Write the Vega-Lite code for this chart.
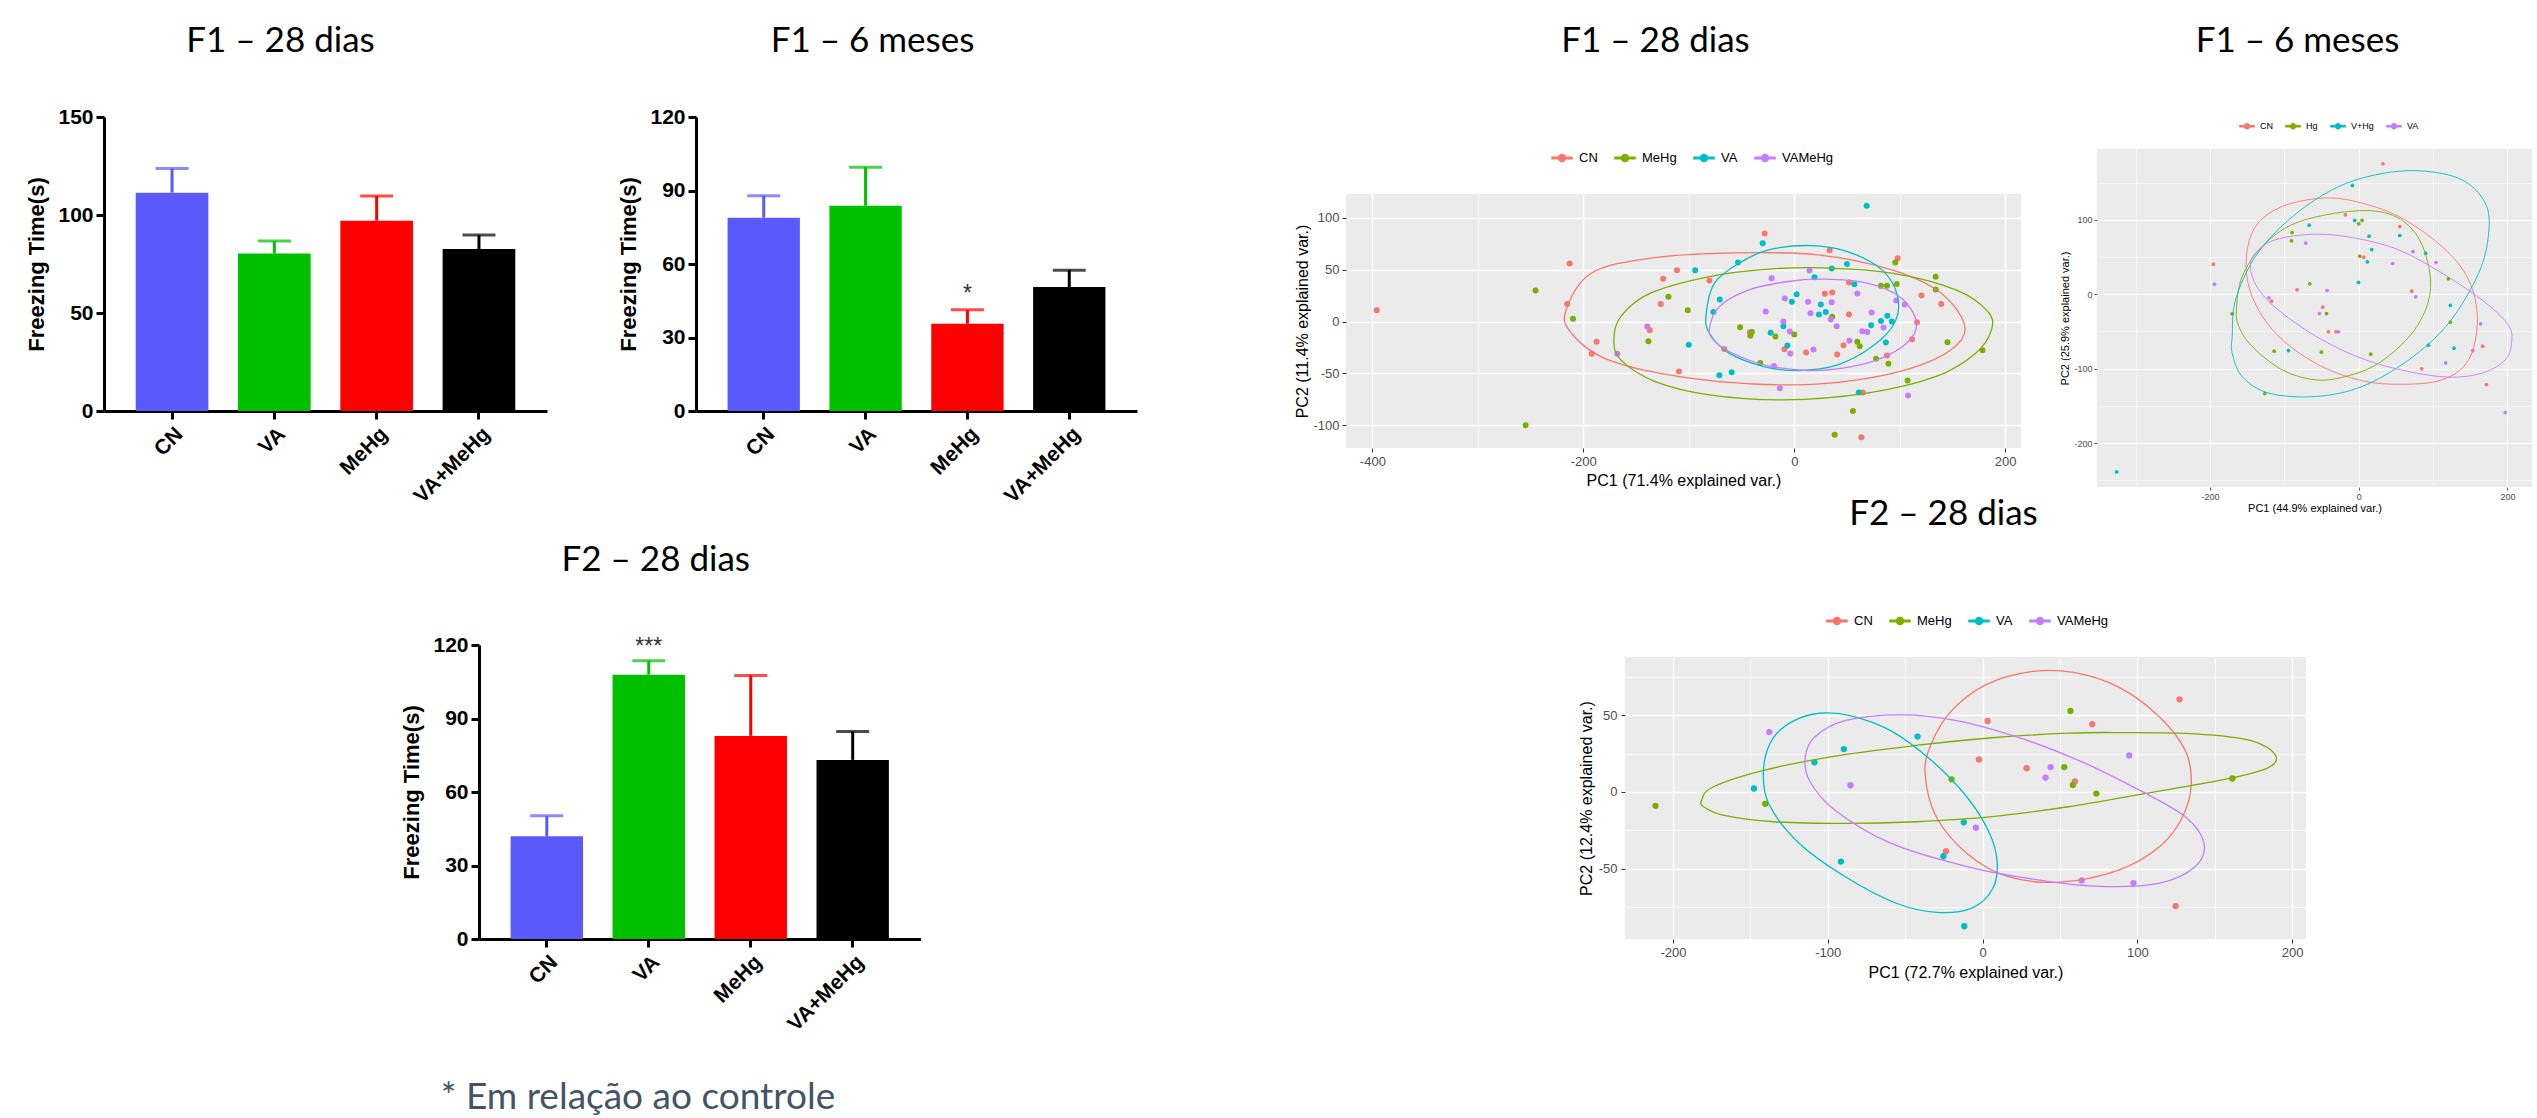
{
"$schema": "https://vega.github.io/schema/vega-lite/v6.json",
"background": "white",
"padding": {"left": 25, "top": 24, "right": 2, "bottom": 2},
"config": {
  "view": {"stroke": null},
  "font": "Liberation Sans",
  "title": {"font": "Lato", "fontSize": 35, "fontWeight": "normal", "color": "#000000", "anchor": "middle", "frame": "group"}
},
"datasets": {
  "bar1": [
    {"group": "CN", "mean": 111.4, "upper": 123.7, "sig": ""},
    {"group": "VA", "mean": 80.4, "upper": 86.7, "sig": ""},
    {"group": "MeHg", "mean": 97.1, "upper": 109.7, "sig": ""},
    {"group": "VA+MeHg", "mean": 82.6, "upper": 89.8, "sig": ""}
  ],
  "bar2": [
    {"group": "CN", "mean": 78.9, "upper": 87.9, "sig": ""},
    {"group": "VA", "mean": 83.8, "upper": 99.5, "sig": ""},
    {"group": "MeHg", "mean": 35.6, "upper": 41.3, "sig": "*"},
    {"group": "VA+MeHg", "mean": 50.6, "upper": 57.5, "sig": ""}
  ],
  "bar3": [
    {"group": "CN", "mean": 41.9, "upper": 50.3, "sig": ""},
    {"group": "VA", "mean": 107.9, "upper": 113.6, "sig": "***"},
    {"group": "MeHg", "mean": 82.9, "upper": 107.6, "sig": ""},
    {"group": "VA+MeHg", "mean": 73.1, "upper": 84.7, "sig": ""}
  ],
  "pca1_pts": [
    {"group":"CN","pc1":-395.8,"pc2":10.9},{"group":"CN","pc1":-213,"pc2":56},{"group":"CN","pc1":-215.4,"pc2":17},{"group":"CN","pc1":-187.4,"pc2":-19.6},{"group":"CN","pc1":-192,"pc2":-31.2},{"group":"CN","pc1":-137,"pc2":-8.4},{"group":"CN","pc1":-124.3,"pc2":41.2},{"group":"CN","pc1":-111.2,"pc2":49.5},{"group":"CN","pc1":-126.6,"pc2":17},{"group":"CN","pc1":-109.3,"pc2":-48.2},{"group":"CN","pc1":-80.4,"pc2":39.5},{"group":"CN","pc1":-66.4,"pc2":-26.4},{"group":"CN","pc1":-42,"pc2":-10.3},{"group":"CN","pc1":-28,"pc2":84.9},{"group":"CN","pc1":-9.3,"pc2":-26.7},{"group":"CN","pc1":11.2,"pc2":-29.9},{"group":"CN","pc1":29,"pc2":26.7},{"group":"CN","pc1":36,"pc2":28},{"group":"CN","pc1":33.6,"pc2":68.8},{"group":"CN","pc1":40.7,"pc2":-31.8},{"group":"CN","pc1":46.7,"pc2":-22.8},{"group":"CN","pc1":51.9,"pc2":37.6},{"group":"CN","pc1":51.9,"pc2":6.8},{"group":"CN","pc1":65,"pc2":-68.5},{"group":"CN","pc1":63.6,"pc2":-111.6},{"group":"CN","pc1":87.9,"pc2":-32.8},{"group":"CN","pc1":98,"pc2":61},{"group":"CN","pc1":111.7,"pc2":-17},{"group":"CN","pc1":116.4,"pc2":-0.6},{"group":"CN","pc1":120.6,"pc2":25},{"group":"CN","pc1":139.3,"pc2":17},
    {"group":"MeHg","pc1":-245.3,"pc2":29.9},{"group":"MeHg","pc1":-254.7,"pc2":-100},{"group":"MeHg","pc1":-209.8,"pc2":2.6},{"group":"MeHg","pc1":-138.3,"pc2":-19},{"group":"MeHg","pc1":-119.2,"pc2":23.8},{"group":"MeHg","pc1":-101,"pc2":10.9},{"group":"MeHg","pc1":-51.4,"pc2":-5.5},{"group":"MeHg","pc1":-40.2,"pc2":-10},{"group":"MeHg","pc1":-41.6,"pc2":-13.8},{"group":"MeHg","pc1":-32.2,"pc2":-39.9},{"group":"MeHg","pc1":-17.8,"pc2":-14.5},{"group":"MeHg","pc1":0,"pc2":-12.5},{"group":"MeHg","pc1":36,"pc2":4.5},{"group":"MeHg","pc1":38.3,"pc2":-109.3},{"group":"MeHg","pc1":55.6,"pc2":-86.2},{"group":"MeHg","pc1":59.8,"pc2":-19.6},{"group":"MeHg","pc1":62.1,"pc2":-23.8},{"group":"MeHg","pc1":77.6,"pc2":-36},{"group":"MeHg","pc1":82.2,"pc2":34.4},{"group":"MeHg","pc1":87.9,"pc2":34.4},{"group":"MeHg","pc1":89.3,"pc2":-40.8},{"group":"MeHg","pc1":95.8,"pc2":56.9},{"group":"MeHg","pc1":97.2,"pc2":36.3},{"group":"MeHg","pc1":107.5,"pc2":-56.9},{"group":"MeHg","pc1":134.1,"pc2":43.1},{"group":"MeHg","pc1":134.1,"pc2":30.9},{"group":"MeHg","pc1":145.3,"pc2":-19.9},{"group":"MeHg","pc1":178.5,"pc2":-27.7},
    {"group":"VA","pc1":-93.9,"pc2":49.5},{"group":"VA","pc1":-100,"pc2":-22.5},{"group":"VA","pc1":-76.6,"pc2":9.3},{"group":"VA","pc1":-70.6,"pc2":21.2},{"group":"VA","pc1":-71,"pc2":-51.8},{"group":"VA","pc1":-59.3,"pc2":-48.9},{"group":"VA","pc1":-53.3,"pc2":56.9},{"group":"VA","pc1":-29.9,"pc2":75.6},{"group":"VA","pc1":-22.4,"pc2":-10.9},{"group":"VA","pc1":-10.3,"pc2":-4.5},{"group":"VA","pc1":-6.5,"pc2":-23.2},{"group":"VA","pc1":-2.3,"pc2":19},{"group":"VA","pc1":2.3,"pc2":26.4},{"group":"VA","pc1":19.2,"pc2":42.8},{"group":"VA","pc1":23.4,"pc2":6.8},{"group":"VA","pc1":25.2,"pc2":16.4},{"group":"VA","pc1":29.9,"pc2":9.3},{"group":"VA","pc1":35.5,"pc2":51.1},{"group":"VA","pc1":50,"pc2":55.6},{"group":"VA","pc1":57,"pc2":36},{"group":"VA","pc1":61.2,"pc2":-68.5},{"group":"VA","pc1":68.7,"pc2":111.6},{"group":"VA","pc1":72.9,"pc2":-3.5},{"group":"VA","pc1":82.2,"pc2":0.6},{"group":"VA","pc1":88.3,"pc2":5.5},{"group":"VA","pc1":86.9,"pc2":-20.3},{"group":"VA","pc1":92.5,"pc2":0},
    {"group":"VAMeHg","pc1":-139.3,"pc2":-4.8},{"group":"VAMeHg","pc1":-167.8,"pc2":-31.2},{"group":"VAMeHg","pc1":-27.1,"pc2":9.6},{"group":"VAMeHg","pc1":-21.5,"pc2":41.8},{"group":"VAMeHg","pc1":-8.9,"pc2":22.2},{"group":"VAMeHg","pc1":-10.3,"pc2":0},{"group":"VAMeHg","pc1":-4.2,"pc2":-9.6},{"group":"VAMeHg","pc1":-3.7,"pc2":-30.9},{"group":"VAMeHg","pc1":-19.2,"pc2":-42.8},{"group":"VAMeHg","pc1":-13.6,"pc2":-64.3},{"group":"VAMeHg","pc1":13.1,"pc2":19},{"group":"VAMeHg","pc1":14.5,"pc2":49.2},{"group":"VAMeHg","pc1":15.4,"pc2":8},{"group":"VAMeHg","pc1":18.2,"pc2":-27},{"group":"VAMeHg","pc1":34.6,"pc2":1.9},{"group":"VAMeHg","pc1":35.5,"pc2":18.6},{"group":"VAMeHg","pc1":40.2,"pc2":-4.5},{"group":"VAMeHg","pc1":52.3,"pc2":-18.6},{"group":"VAMeHg","pc1":59.8,"pc2":27},{"group":"VAMeHg","pc1":64.5,"pc2":-9.3},{"group":"VAMeHg","pc1":69.2,"pc2":-10},{"group":"VAMeHg","pc1":73.4,"pc2":8.7},{"group":"VAMeHg","pc1":84.6,"pc2":-5.8},{"group":"VAMeHg","pc1":96.7,"pc2":20.3},{"group":"VAMeHg","pc1":104.7,"pc2":16.4},{"group":"VAMeHg","pc1":107.9,"pc2":-71.4}
  ],
  "pca1_ell": [
    {"group":"CN","i":0,"pc1":-216.8,"pc2":9.6},{"group":"CN","i":1,"pc1":-192.5,"pc2":46.6},{"group":"CN","i":2,"pc1":-136.4,"pc2":61.1},{"group":"CN","i":3,"pc1":-57,"pc2":66.2},{"group":"CN","i":4,"pc1":22.4,"pc2":64.3},{"group":"CN","i":5,"pc1":92.5,"pc2":49.8},{"group":"CN","i":6,"pc1":139.3,"pc2":27.3},{"group":"CN","i":7,"pc1":161.7,"pc2":-4.8},{"group":"CN","i":8,"pc1":148.6,"pc2":-27.3},{"group":"CN","i":9,"pc1":111.2,"pc2":-45},{"group":"CN","i":10,"pc1":59.8,"pc2":-56.3},{"group":"CN","i":11,"pc1":3.7,"pc2":-61.1},{"group":"CN","i":12,"pc1":-71,"pc2":-57.9},{"group":"CN","i":13,"pc1":-136.4,"pc2":-48.2},{"group":"CN","i":14,"pc1":-183.2,"pc2":-33.8},{"group":"CN","i":15,"pc1":-211.2,"pc2":-11.3},
    {"group":"MeHg","i":0,"pc1":-171,"pc2":-17.7},{"group":"MeHg","i":1,"pc1":-164.5,"pc2":4.8},{"group":"MeHg","i":2,"pc1":-136.4,"pc2":27.3},{"group":"MeHg","i":3,"pc1":-80.4,"pc2":43.4},{"group":"MeHg","i":4,"pc1":-24.3,"pc2":50.5},{"group":"MeHg","i":5,"pc1":27.1,"pc2":51.8},{"group":"MeHg","i":6,"pc1":92.5,"pc2":46.6},{"group":"MeHg","i":7,"pc1":153.3,"pc2":30.5},{"group":"MeHg","i":8,"pc1":183.6,"pc2":9.6},{"group":"MeHg","i":9,"pc1":187,"pc2":-8},{"group":"MeHg","i":10,"pc1":172,"pc2":-30.5},{"group":"MeHg","i":11,"pc1":134.6,"pc2":-53},{"group":"MeHg","i":12,"pc1":69.2,"pc2":-69.1},{"group":"MeHg","i":13,"pc1":-10.3,"pc2":-75.6},{"group":"MeHg","i":14,"pc1":-80.4,"pc2":-70.7},{"group":"MeHg","i":15,"pc1":-131.8,"pc2":-57.9},{"group":"MeHg","i":16,"pc1":-164.5,"pc2":-37},
    {"group":"VA","i":0,"pc1":-83.6,"pc2":6.4},{"group":"VA","i":1,"pc1":-75.7,"pc2":37},{"group":"VA","i":2,"pc1":-52.3,"pc2":56.3},{"group":"VA","i":3,"pc1":-24.3,"pc2":69.1},{"group":"VA","i":4,"pc1":15.4,"pc2":73.3},{"group":"VA","i":5,"pc1":50.5,"pc2":67.5},{"group":"VA","i":6,"pc1":83.2,"pc2":49.8},{"group":"VA","i":7,"pc1":98,"pc2":24.1},{"group":"VA","i":8,"pc1":94.9,"pc2":-1.6},{"group":"VA","i":9,"pc1":73.8,"pc2":-24.1},{"group":"VA","i":10,"pc1":41.1,"pc2":-41.8},{"group":"VA","i":11,"pc1":3.7,"pc2":-47.3},{"group":"VA","i":12,"pc1":-29,"pc2":-43.4},{"group":"VA","i":13,"pc1":-61.7,"pc2":-30.5},{"group":"VA","i":14,"pc1":-80.4,"pc2":-11.3},
    {"group":"VAMeHg","i":0,"pc1":-80.4,"pc2":-6.4},{"group":"VAMeHg","i":1,"pc1":-71,"pc2":14.5},{"group":"VAMeHg","i":2,"pc1":-43,"pc2":30.5},{"group":"VAMeHg","i":3,"pc1":-5.6,"pc2":38.6},{"group":"VAMeHg","i":4,"pc1":27.1,"pc2":40.8},{"group":"VAMeHg","i":5,"pc1":69.2,"pc2":37},{"group":"VAMeHg","i":6,"pc1":101.9,"pc2":22.5},{"group":"VAMeHg","i":7,"pc1":115.9,"pc2":-1.6},{"group":"VAMeHg","i":8,"pc1":106.5,"pc2":-20.9},{"group":"VAMeHg","i":9,"pc1":78.5,"pc2":-37},{"group":"VAMeHg","i":10,"pc1":45.8,"pc2":-45},{"group":"VAMeHg","i":11,"pc1":13.1,"pc2":-47.3},{"group":"VAMeHg","i":12,"pc1":-29,"pc2":-41.8},{"group":"VAMeHg","i":13,"pc1":-61.7,"pc2":-28.9},{"group":"VAMeHg","i":14,"pc1":-76.6,"pc2":-17.7}
  ],
  "pca2_pts": [
    {"group":"CN","pc1":32.7,"pc2":175.1},{"group":"CN","pc1":-17.9,"pc2":106.6},{"group":"CN","pc1":55.1,"pc2":90.9},{"group":"CN","pc1":-195.7,"pc2":40.3},{"group":"CN","pc1":6.7,"pc2":49.7},{"group":"CN","pc1":-82.9,"pc2":5.8},{"group":"CN","pc1":-117.4,"pc2":-9.4},{"group":"CN","pc1":-48.4,"pc2":-17.5},{"group":"CN","pc1":-40.8,"pc2":-50.6},{"group":"CN","pc1":-30.5,"pc2":-50.6},{"group":"CN","pc1":71.2,"pc2":4},{"group":"CN","pc1":166.6,"pc2":-69.9},{"group":"CN","pc1":84.7,"pc2":-100.3},{"group":"CN","pc1":171.6,"pc2":-121.4},
    {"group":"Hg","pc1":-89.6,"pc2":82.8},{"group":"Hg","pc1":-90.5,"pc2":71.7},{"group":"Hg","pc1":0,"pc2":94.5},{"group":"Hg","pc1":4.5,"pc2":99},{"group":"Hg","pc1":1.3,"pc2":51.1},{"group":"Hg","pc1":-65.8,"pc2":13.9},{"group":"Hg","pc1":-170.2,"pc2":-26.4},{"group":"Hg","pc1":-43.4,"pc2":-26},{"group":"Hg","pc1":-113.8,"pc2":-76.6},{"group":"Hg","pc1":-50.2,"pc2":-77.9},{"group":"Hg","pc1":16.1,"pc2":-80.6},{"group":"Hg","pc1":-126.3,"pc2":-133.5},{"group":"Hg","pc1":120.5,"pc2":20.6},{"group":"Hg","pc1":123.2,"pc2":-37.6},
    {"group":"V+Hg","pc1":-8.5,"pc2":146},{"group":"V+Hg","pc1":-5.4,"pc2":99},{"group":"V+Hg","pc1":-66.7,"pc2":92.7},{"group":"V+Hg","pc1":13.9,"pc2":77.9},{"group":"V+Hg","pc1":17.5,"pc2":60},{"group":"V+Hg","pc1":11.6,"pc2":43.4},{"group":"V+Hg","pc1":55.1,"pc2":78.8},{"group":"V+Hg","pc1":-0.4,"pc2":15.7},{"group":"V+Hg","pc1":90,"pc2":55.1},{"group":"V+Hg","pc1":123.2,"pc2":-15.2},{"group":"V+Hg","pc1":93.6,"pc2":-68.5},{"group":"V+Hg","pc1":128.1,"pc2":-72.5},{"group":"V+Hg","pc1":-94.5,"pc2":-75.7},{"group":"V+Hg","pc1":-325.6,"pc2":-238.7},
    {"group":"VA","pc1":-71.2,"pc2":68.5},{"group":"VA","pc1":73,"pc2":57.3},{"group":"VA","pc1":45.7,"pc2":41.2},{"group":"VA","pc1":103.9,"pc2":42.5},{"group":"VA","pc1":-194,"pc2":13.4},{"group":"VA","pc1":-42.6,"pc2":4.9},{"group":"VA","pc1":76.6,"pc2":-3.6},{"group":"VA","pc1":-120.9,"pc2":-4.9},{"group":"VA","pc1":-52.9,"pc2":-26},{"group":"VA","pc1":-27.3,"pc2":-50.6},{"group":"VA","pc1":163.9,"pc2":-39.9},{"group":"VA","pc1":153.2,"pc2":-75.7},{"group":"VA","pc1":116.9,"pc2":-92.3},{"group":"VA","pc1":197.1,"pc2":-159}
  ],
  "pca2_ell": [
    {"group":"CN","i":0,"pc1":-151.4,"pc2":46.1},{"group":"CN","i":1,"pc1":-138.8,"pc2":90.9},{"group":"CN","i":2,"pc1":-103,"pc2":117.8},{"group":"CN","i":3,"pc1":-49.3,"pc2":129},{"group":"CN","i":4,"pc1":-4.5,"pc2":124.5},{"group":"CN","i":5,"pc1":53.8,"pc2":104.3},{"group":"CN","i":6,"pc1":112,"pc2":64},{"group":"CN","i":7,"pc1":147.8,"pc2":19.3},{"group":"CN","i":8,"pc1":159.5,"pc2":-34.5},{"group":"CN","i":9,"pc1":147.8,"pc2":-88.2},{"group":"CN","i":10,"pc1":112,"pc2":-115.1},{"group":"CN","i":11,"pc1":53.8,"pc2":-121},{"group":"CN","i":12,"pc1":0,"pc2":-115.1},{"group":"CN","i":13,"pc1":-58.2,"pc2":-92.7},{"group":"CN","i":14,"pc1":-111.9,"pc2":-52.4},{"group":"CN","i":15,"pc1":-143.3,"pc2":-3.1},
    {"group":"Hg","i":0,"pc1":-164.4,"pc2":-18.8},{"group":"Hg","i":1,"pc1":-156.8,"pc2":23.7},{"group":"Hg","i":2,"pc1":-129.9,"pc2":64},{"group":"Hg","i":3,"pc1":-85.1,"pc2":95.4},{"group":"Hg","i":4,"pc1":-13.4,"pc2":111.1},{"group":"Hg","i":5,"pc1":40.3,"pc2":107.9},{"group":"Hg","i":6,"pc1":76.1,"pc2":82},{"group":"Hg","i":7,"pc1":94.1,"pc2":37.2},{"group":"Hg","i":8,"pc1":94.1,"pc2":-7.6},{"group":"Hg","i":9,"pc1":71.7,"pc2":-52.4},{"group":"Hg","i":10,"pc1":26.9,"pc2":-92.7},{"group":"Hg","i":11,"pc1":-17.9,"pc2":-110.6},{"group":"Hg","i":12,"pc1":-58.2,"pc2":-115.1},{"group":"Hg","i":13,"pc1":-103,"pc2":-101.7},{"group":"Hg","i":14,"pc1":-143.3,"pc2":-70.3},{"group":"Hg","i":15,"pc1":-161.2,"pc2":-43.4},
    {"group":"V+Hg","i":0,"pc1":-170.2,"pc2":-56.9},{"group":"V+Hg","i":1,"pc1":-165.7,"pc2":-7.6},{"group":"V+Hg","i":2,"pc1":-138.9,"pc2":50.6},{"group":"V+Hg","i":3,"pc1":-94.1,"pc2":99.9},{"group":"V+Hg","i":4,"pc1":-35.8,"pc2":140.2},{"group":"V+Hg","i":5,"pc1":22.4,"pc2":160.3},{"group":"V+Hg","i":6,"pc1":82.9,"pc2":165.7},{"group":"V+Hg","i":7,"pc1":138.9,"pc2":153.6},{"group":"V+Hg","i":8,"pc1":170.2,"pc2":122.3},{"group":"V+Hg","i":9,"pc1":174.7,"pc2":82},{"group":"V+Hg","i":10,"pc1":161.2,"pc2":28.2},{"group":"V+Hg","i":11,"pc1":120.9,"pc2":-39},{"group":"V+Hg","i":12,"pc1":67.2,"pc2":-88.2},{"group":"V+Hg","i":13,"pc1":4.5,"pc2":-124},{"group":"V+Hg","i":14,"pc1":-58.2,"pc2":-137.5},{"group":"V+Hg","i":15,"pc1":-120.9,"pc2":-133},{"group":"V+Hg","i":16,"pc1":-156.8,"pc2":-110.6},{"group":"V+Hg","i":17,"pc1":-170.2,"pc2":-79.2},
    {"group":"VA","i":0,"pc1":-145.6,"pc2":34.9},{"group":"VA","i":1,"pc1":-138.9,"pc2":55.1},{"group":"VA","i":2,"pc1":-112,"pc2":73},{"group":"VA","i":3,"pc1":-58.2,"pc2":80.6},{"group":"VA","i":4,"pc1":-4.5,"pc2":75.2},{"group":"VA","i":5,"pc1":53.8,"pc2":59.6},{"group":"VA","i":6,"pc1":112,"pc2":28.2},{"group":"VA","i":7,"pc1":165.7,"pc2":-7.6},{"group":"VA","i":8,"pc1":199.3,"pc2":-39},{"group":"VA","i":9,"pc1":206,"pc2":-61.4},{"group":"VA","i":10,"pc1":197.1,"pc2":-88.2},{"group":"VA","i":11,"pc1":165.7,"pc2":-106.1},{"group":"VA","i":12,"pc1":120.9,"pc2":-111.5},{"group":"VA","i":13,"pc1":67.2,"pc2":-103.9},{"group":"VA","i":14,"pc1":9,"pc2":-88.2},{"group":"VA","i":15,"pc1":-49.3,"pc2":-61.4},{"group":"VA","i":16,"pc1":-103,"pc2":-25.5},{"group":"VA","i":17,"pc1":-134.3,"pc2":5.8}
  ],
  "pca3_pts": [
    {"group":"CN","pc1":127.3,"pc2":60.4},{"group":"CN","pc1":70.9,"pc2":44.2},{"group":"CN","pc1":3.3,"pc2":46.3},{"group":"CN","pc1":-2.3,"pc2":21.2},{"group":"CN","pc1":28.5,"pc2":15.4},{"group":"CN","pc1":59.7,"pc2":6.9},{"group":"CN","pc1":-23.6,"pc2":-38.7},{"group":"CN","pc1":124.7,"pc2":-74.5},
    {"group":"MeHg","pc1":-211.3,"pc2":-9.1},{"group":"MeHg","pc1":-140.4,"pc2":-7.8},{"group":"MeHg","pc1":-20,"pc2":8.2},{"group":"MeHg","pc1":56.8,"pc2":52.8},{"group":"MeHg","pc1":52.8,"pc2":16.2},{"group":"MeHg","pc1":58.4,"pc2":4.5},{"group":"MeHg","pc1":73.5,"pc2":-1.1},{"group":"MeHg","pc1":161.4,"pc2":8.7},
    {"group":"VA","pc1":-147.7,"pc2":2.2},{"group":"VA","pc1":-108.6,"pc2":19.3},{"group":"VA","pc1":-89.6,"pc2":27.9},{"group":"VA","pc1":-42,"pc2":36.1},{"group":"VA","pc1":-12.1,"pc2":-19.9},{"group":"VA","pc1":-25.3,"pc2":-42},{"group":"VA","pc1":-91.5,"pc2":-45.5},{"group":"VA","pc1":-11.8,"pc2":-87.7},
    {"group":"VAMeHg","pc1":-137.8,"pc2":39},{"group":"VAMeHg","pc1":-85.3,"pc2":4.3},{"group":"VAMeHg","pc1":44,"pc2":16.2},{"group":"VAMeHg","pc1":40.7,"pc2":9.3},{"group":"VAMeHg","pc1":-4.3,"pc2":-23.4},{"group":"VAMeHg","pc1":94.8,"pc2":23.8},{"group":"VAMeHg","pc1":64,"pc2":-57.8},{"group":"VAMeHg","pc1":97.5,"pc2":-59.5}
  ],
  "pca3_ell": [
    {"group":"CN","i":0,"pc1":-37.1,"pc2":11.9},{"group":"CN","i":1,"pc1":-33.1,"pc2":31.4},{"group":"CN","i":2,"pc1":-20,"pc2":53},{"group":"CN","i":3,"pc1":3,"pc2":70.3},{"group":"CN","i":4,"pc1":32.5,"pc2":78.6},{"group":"CN","i":5,"pc1":58.7,"pc2":77.9},{"group":"CN","i":6,"pc1":88.3,"pc2":68.2},{"group":"CN","i":7,"pc1":114.5,"pc2":48.7},{"group":"CN","i":8,"pc1":130.9,"pc2":27.1},{"group":"CN","i":9,"pc1":134.9,"pc2":5.4},{"group":"CN","i":10,"pc1":129.3,"pc2":-16.2},{"group":"CN","i":11,"pc1":114.5,"pc2":-35.7},{"group":"CN","i":12,"pc1":88.3,"pc2":-50.9},{"group":"CN","i":13,"pc1":50.5,"pc2":-58.9},{"group":"CN","i":14,"pc1":16.1,"pc2":-55.2},{"group":"CN","i":15,"pc1":-10.2,"pc2":-40},{"group":"CN","i":16,"pc1":-29.9,"pc2":-16.2},
    {"group":"MeHg","i":0,"pc1":-181.5,"pc2":-5.4},{"group":"MeHg","i":1,"pc1":-174.2,"pc2":3.2},{"group":"MeHg","i":2,"pc1":-141.4,"pc2":14.1},{"group":"MeHg","i":3,"pc1":-92.2,"pc2":23.8},{"group":"MeHg","i":4,"pc1":-43,"pc2":30.3},{"group":"MeHg","i":5,"pc1":6.2,"pc2":35.3},{"group":"MeHg","i":6,"pc1":55.5,"pc2":38.3},{"group":"MeHg","i":7,"pc1":88.3,"pc2":38.7},{"group":"MeHg","i":8,"pc1":137.5,"pc2":37.9},{"group":"MeHg","i":9,"pc1":173.6,"pc2":33.5},{"group":"MeHg","i":10,"pc1":189.3,"pc2":23.8},{"group":"MeHg","i":11,"pc1":183.4,"pc2":15.2},{"group":"MeHg","i":12,"pc1":153.9,"pc2":7.6},{"group":"MeHg","i":13,"pc1":104.7,"pc2":-1.1},{"group":"MeHg","i":14,"pc1":55.5,"pc2":-9.7},{"group":"MeHg","i":15,"pc1":6.2,"pc2":-16.2},{"group":"MeHg","i":16,"pc1":-43,"pc2":-19.5},{"group":"MeHg","i":17,"pc1":-88.9,"pc2":-20.6},{"group":"MeHg","i":18,"pc1":-134.9,"pc2":-19.5},{"group":"MeHg","i":19,"pc1":-167.7,"pc2":-15.2},{"group":"MeHg","i":20,"pc1":-180.2,"pc2":-9.7},
    {"group":"VA","i":0,"pc1":-141.4,"pc2":16.2},{"group":"VA","i":1,"pc1":-134.9,"pc2":35.7},{"group":"VA","i":2,"pc1":-121.7,"pc2":46.5},{"group":"VA","i":3,"pc1":-105.3,"pc2":51.3},{"group":"VA","i":4,"pc1":-85.6,"pc2":49.8},{"group":"VA","i":5,"pc1":-59.4,"pc2":40},{"group":"VA","i":6,"pc1":-33.1,"pc2":20.6},{"group":"VA","i":7,"pc1":-10.2,"pc2":-3.2},{"group":"VA","i":8,"pc1":4.6,"pc2":-27.1},{"group":"VA","i":9,"pc1":9.5,"pc2":-46.5},{"group":"VA","i":10,"pc1":6.2,"pc2":-63.9},{"group":"VA","i":11,"pc1":-6.9,"pc2":-75.8},{"group":"VA","i":12,"pc1":-29.9,"pc2":-78.6},{"group":"VA","i":13,"pc1":-56.1,"pc2":-72.5},{"group":"VA","i":14,"pc1":-88.9,"pc2":-55.2},{"group":"VA","i":15,"pc1":-118.5,"pc2":-33.5},{"group":"VA","i":16,"pc1":-138.2,"pc2":-7.6},
    {"group":"VAMeHg","i":0,"pc1":-114.5,"pc2":22.7},{"group":"VAMeHg","i":1,"pc1":-108.6,"pc2":35.7},{"group":"VAMeHg","i":2,"pc1":-88.9,"pc2":46.5},{"group":"VAMeHg","i":3,"pc1":-52.8,"pc2":50.2},{"group":"VAMeHg","i":4,"pc1":-16.7,"pc2":46.5},{"group":"VAMeHg","i":5,"pc1":22.6,"pc2":35.7},{"group":"VAMeHg","i":6,"pc1":62,"pc2":20.6},{"group":"VAMeHg","i":7,"pc1":101.4,"pc2":1.1},{"group":"VAMeHg","i":8,"pc1":131,"pc2":-16.2},{"group":"VAMeHg","i":9,"pc1":143.1,"pc2":-33.5},{"group":"VAMeHg","i":10,"pc1":137.5,"pc2":-48.7},{"group":"VAMeHg","i":11,"pc1":114.5,"pc2":-59.5},{"group":"VAMeHg","i":12,"pc1":76.8,"pc2":-61.7},{"group":"VAMeHg","i":13,"pc1":35.8,"pc2":-57.4},{"group":"VAMeHg","i":14,"pc1":-10.2,"pc2":-48.7},{"group":"VAMeHg","i":15,"pc1":-59.4,"pc2":-33.5},{"group":"VAMeHg","i":16,"pc1":-95.5,"pc2":-11.9},{"group":"VAMeHg","i":17,"pc1":-111.9,"pc2":7.6}
  ]
},
"resolve": {"scale": {"color": "independent"}, "legend": {"color": "independent"}},
"spacing": 157,
"hconcat": [
  {
    "resolve": {"scale": {"color": "independent"}, "legend": {"color": "independent"}},
    "spacing": 36,
    "vconcat": [
      {
        "resolve": {"scale": {"color": "independent"}, "legend": {"color": "independent"}},
        "spacing": 70,
        "hconcat": [
          {
            "width": 443, "height": 294,
            "title": {"text": "F1 – 28 dias", "offset": 47, "dx": -45},
            "data": {"name": "bar1"},
            "encoding": {
              "x": {"field": "group", "type": "nominal", "sort": ["CN", "VA", "MeHg", "VA+MeHg"], "scale": {"paddingInner": 0.29, "paddingOuter": 0.31},
                "axis": {"title": null, "labelAngle": -45, "labelFont": "Liberation Sans", "labelFontSize": 21, "labelFontWeight": "bold", "labelColor": "#000000", "labelPadding": 4, "labelOverlap": false, "domainColor": "#000000", "domainWidth": 3, "tickColor": "#000000", "tickWidth": 3, "tickSize": 8}},
              "color": {"field": "group", "type": "nominal", "scale": {"domain": ["CN", "VA", "MeHg", "VA+MeHg"], "range": ["#5A5AFA", "#00C000", "#FF0000", "#000000"]}, "legend": null}
            },
            "layer": [
              {"mark": {"type": "bar"}, "encoding": {"y": {"field": "mean", "type": "quantitative", "title": "Freezing Time(s)", "scale": {"domain": [0, 150], "nice": false},
                "axis": {"values": [0, 50, 100, 150], "grid": false, "labelFont": "Liberation Sans", "labelFontSize": 21, "labelFontWeight": "bold", "labelColor": "#000000", "labelPadding": 3, "domainColor": "#000000", "domainWidth": 3, "tickColor": "#000000", "tickWidth": 3, "tickSize": 8, "titleFont": "Liberation Sans", "titleFontSize": 22, "titleFontWeight": "bold", "titleColor": "#000000", "titlePadding": 9}}}},
              {"mark": {"type": "rule", "strokeWidth": 3}, "encoding": {"y": {"field": "mean", "type": "quantitative", "title": "Freezing Time(s)"}, "y2": {"field": "upper"}}},
              {"mark": {"type": "tick", "thickness": 3, "size": 33}, "encoding": {"y": {"field": "upper", "type": "quantitative", "title": "Freezing Time(s)"}}}
            ]
          },
          {
            "width": 441, "height": 294,
            "title": {"text": "F1 – 6 meses", "offset": 47, "dx": -44},
            "data": {"name": "bar2"},
            "encoding": {
              "x": {"field": "group", "type": "nominal", "sort": ["CN", "VA", "MeHg", "VA+MeHg"], "scale": {"paddingInner": 0.29, "paddingOuter": 0.31},
                "axis": {"title": null, "labelAngle": -45, "labelFont": "Liberation Sans", "labelFontSize": 21, "labelFontWeight": "bold", "labelColor": "#000000", "labelPadding": 4, "labelOverlap": false, "domainColor": "#000000", "domainWidth": 3, "tickColor": "#000000", "tickWidth": 3, "tickSize": 8}},
              "color": {"field": "group", "type": "nominal", "scale": {"domain": ["CN", "VA", "MeHg", "VA+MeHg"], "range": ["#5A5AFA", "#00C000", "#FF0000", "#000000"]}, "legend": null}
            },
            "layer": [
              {"mark": {"type": "bar"}, "encoding": {"y": {"field": "mean", "type": "quantitative", "title": "Freezing Time(s)", "scale": {"domain": [0, 120], "nice": false},
                "axis": {"values": [0, 30, 60, 90, 120], "grid": false, "labelFont": "Liberation Sans", "labelFontSize": 21, "labelFontWeight": "bold", "labelColor": "#000000", "labelPadding": 3, "domainColor": "#000000", "domainWidth": 3, "tickColor": "#000000", "tickWidth": 3, "tickSize": 8, "titleFont": "Liberation Sans", "titleFontSize": 22, "titleFontWeight": "bold", "titleColor": "#000000", "titlePadding": 9}}}},
              {"mark": {"type": "rule", "strokeWidth": 3}, "encoding": {"y": {"field": "mean", "type": "quantitative", "title": "Freezing Time(s)"}, "y2": {"field": "upper"}}},
              {"mark": {"type": "tick", "thickness": 3, "size": 33}, "encoding": {"y": {"field": "upper", "type": "quantitative", "title": "Freezing Time(s)"}}},
              {"transform": [{"filter": "datum.sig != ''"}], "mark": {"type": "text", "font": "Liberation Sans", "fontSize": 23, "baseline": "bottom", "dy": -4}, "encoding": {"y": {"field": "upper", "type": "quantitative", "title": "Freezing Time(s)"}, "text": {"field": "sig"}, "color": {"value": "#333333"}}}
            ]
          }
        ]
      },
      {
        "resolve": {"scale": {"color": "independent"}, "legend": {"color": "independent"}},
        "spacing": 0,
        "hconcat": [
          {"width": 295.5, "height": 1, "data": {"values": []}, "mark": "point"},
          {
            "resolve": {"scale": {"color": "independent"}, "legend": {"color": "independent"}},
            "spacing": 44,
            "vconcat": [
              {
                "width": 441.5, "height": 294,
                "title": {"text": "F2 – 28 dias", "offset": 56, "dx": -44},
                "data": {"name": "bar3"},
                "encoding": {
                  "x": {"field": "group", "type": "nominal", "sort": ["CN", "VA", "MeHg", "VA+MeHg"], "scale": {"paddingInner": 0.29, "paddingOuter": 0.31},
                    "axis": {"title": null, "labelAngle": -45, "labelFont": "Liberation Sans", "labelFontSize": 21, "labelFontWeight": "bold", "labelColor": "#000000", "labelPadding": 4, "labelOverlap": false, "domainColor": "#000000", "domainWidth": 3, "tickColor": "#000000", "tickWidth": 3, "tickSize": 8}},
                  "color": {"field": "group", "type": "nominal", "scale": {"domain": ["CN", "VA", "MeHg", "VA+MeHg"], "range": ["#5A5AFA", "#00C000", "#FF0000", "#000000"]}, "legend": null}
                },
                "layer": [
                  {"mark": {"type": "bar"}, "encoding": {"y": {"field": "mean", "type": "quantitative", "title": "Freezing Time(s)", "scale": {"domain": [0, 120], "nice": false},
                    "axis": {"values": [0, 30, 60, 90, 120], "grid": false, "labelFont": "Liberation Sans", "labelFontSize": 21, "labelFontWeight": "bold", "labelColor": "#000000", "labelPadding": 3, "domainColor": "#000000", "domainWidth": 3, "tickColor": "#000000", "tickWidth": 3, "tickSize": 8, "titleFont": "Liberation Sans", "titleFontSize": 22, "titleFontWeight": "bold", "titleColor": "#000000", "titlePadding": 9}}}},
                  {"mark": {"type": "rule", "strokeWidth": 3}, "encoding": {"y": {"field": "mean", "type": "quantitative", "title": "Freezing Time(s)"}, "y2": {"field": "upper"}}},
                  {"mark": {"type": "tick", "thickness": 3, "size": 33}, "encoding": {"y": {"field": "upper", "type": "quantitative", "title": "Freezing Time(s)"}}},
                  {"transform": [{"filter": "datum.sig != ''"}], "mark": {"type": "text", "font": "Liberation Sans", "fontSize": 23, "baseline": "bottom", "dy": -2}, "encoding": {"y": {"field": "upper", "type": "quantitative", "title": "Freezing Time(s)"}, "text": {"field": "sig"}, "color": {"value": "#333333"}}}
                ]
              },
              {
                "width": 318, "height": 30,
                "data": {"values": [{"note": "* Em relação ao controle"}]},
                "mark": {"type": "text", "font": "Lato", "fontSize": 37, "color": "#44546A", "align": "center", "baseline": "middle"},
                "encoding": {"text": {"field": "note"}}
              }
            ]
          }
        ]
      }
    ]
  },
  {
    "resolve": {"scale": {"color": "independent"}, "legend": {"color": "independent"}},
    "spacing": -16,
    "vconcat": [
      {
        "resolve": {"scale": {"color": "independent"}, "legend": {"color": "independent"}},
        "spacing": 38,
        "hconcat": [
          {
            "resolve": {"scale": {"color": "independent"}, "legend": {"color": "independent"}},
            "spacing": 0,
            "vconcat": [
              {"width": 675, "height": 30, "title": {"text": "F1 – 28 dias", "offset": 58, "dx": -28}, "data": {"values": []}, "mark": "point"},
              {
                "width": 675, "height": 254,
                "view": {"fill": "#EBEBEB", "stroke": null},
                "layer": [
                  {
                    "data": {"name": "pca1_pts"},
                    "mark": {"type": "circle", "size": 36, "opacity": 1},
                    "encoding": {
                      "x": {"field": "pc1", "type": "quantitative", "title": "PC1 (71.4% explained var.)", "scale": {"domain": [-425, 215], "nice": false, "zero": false},
                        "axis": {"values": [-400, -300, -200, -100, 0, 100, 200], "labelExpr": "datum.value % 200 === 0 ? toString(datum.value) : ''", "grid": true, "gridColor": "#FFFFFF", "gridWidth": {"condition": {"test": "datum.value % 200 === 0", "value": 1.4}, "value": 0.7}, "domain": false, "tickColor": "#333333", "tickWidth": 1, "tickSize": 4, "tickOpacity": {"condition": {"test": "datum.value % 200 === 0", "value": 1}, "value": 0}, "labelColor": "#4D4D4D", "labelFontSize": 13, "labelPadding": 3, "labelOverlap": false, "labelFlush": false, "titleFontSize": 16, "titleFontWeight": "normal", "titleColor": "#000000", "titlePadding": 4}},
                      "y": {"field": "pc2", "type": "quantitative", "title": "PC2 (11.4% explained var.)", "scale": {"domain": [-122, 123], "nice": false, "zero": false},
                        "axis": {"values": [-100, -75, -50, -25, 0, 25, 50, 75, 100], "labelExpr": "datum.value % 50 === 0 ? toString(datum.value) : ''", "grid": true, "gridColor": "#FFFFFF", "gridWidth": {"condition": {"test": "datum.value % 50 === 0", "value": 1.4}, "value": 0.7}, "domain": false, "tickColor": "#333333", "tickWidth": 1, "tickSize": 4, "tickOpacity": {"condition": {"test": "datum.value % 50 === 0", "value": 1}, "value": 0}, "labelColor": "#4D4D4D", "labelFontSize": 13, "labelPadding": 3, "labelOverlap": false, "labelFlush": false, "titleFontSize": 16, "titleFontWeight": "normal", "titleColor": "#000000", "titlePadding": 2}},
                      "color": {"field": "group", "type": "nominal", "scale": {"domain": ["CN", "MeHg", "VA", "VAMeHg"], "range": ["#F8766D", "#7CAE00", "#00BFC4", "#C77CFF"]},
                        "legend": {"orient": "none", "legendX": 205, "legendY": -47, "direction": "horizontal", "title": null, "labelFontSize": 13, "labelColor": "#000000", "labelOffset": 6, "symbolType": "M-1,-0.07L1,-0.07L1,0.07L-1,0.07Z M-0.35,0A0.35,0.35,0,1,1,0.35,0A0.35,0.35,0,1,1,-0.35,0Z", "symbolSize": 400, "symbolOpacity": 1, "columnPadding": 14}}
                    }
                  },
                  {
                    "data": {"name": "pca1_ell"},
                    "mark": {"type": "line", "interpolate": "cardinal-closed", "strokeWidth": 1.3},
                    "encoding": {
                      "x": {"field": "pc1", "type": "quantitative", "title": "PC1 (71.4% explained var.)"},
                      "y": {"field": "pc2", "type": "quantitative", "title": "PC2 (11.4% explained var.)"},
                      "color": {"field": "group", "type": "nominal"},
                      "order": {"field": "i", "type": "quantitative"}
                    }
                  }
                ]
              }
            ]
          },
          {
            "resolve": {"scale": {"color": "independent"}, "legend": {"color": "independent"}},
            "spacing": 0,
            "vconcat": [
              {"width": 435, "height": 1, "title": {"text": "F1 – 6 meses", "offset": 58, "dx": -17}, "data": {"values": []}, "mark": "point"},
              {
                "width": 435, "height": 338,
                "view": {"fill": "#EBEBEB", "stroke": null},
                "layer": [
                  {
                    "data": {"name": "pca2_pts"},
                    "mark": {"type": "circle", "size": 14, "opacity": 1},
                    "encoding": {
                      "x": {"field": "pc1", "type": "quantitative", "title": "PC1 (44.9% explained var.)", "scale": {"domain": [-352, 233], "nice": false, "zero": false},
                        "axis": {"values": [-300, -200, -100, 0, 100, 200], "labelExpr": "datum.value % 200 === 0 ? toString(datum.value) : ''", "grid": true, "gridColor": "#FFFFFF", "gridWidth": {"condition": {"test": "datum.value % 200 === 0", "value": 1}, "value": 0.5}, "domain": false, "tickColor": "#333333", "tickWidth": 0.8, "tickSize": 3, "tickOpacity": {"condition": {"test": "datum.value % 200 === 0", "value": 1}, "value": 0}, "labelColor": "#4D4D4D", "labelFontSize": 9, "labelPadding": 2, "labelOverlap": false, "labelFlush": false, "titleFontSize": 11, "titleFontWeight": "normal", "titleColor": "#000000", "titlePadding": 1}},
                      "y": {"field": "pc2", "type": "quantitative", "title": "PC2 (25.9% explained var.)", "scale": {"domain": [-259, 195], "nice": false, "zero": false},
                        "axis": {"values": [-250, -200, -150, -100, -50, 0, 50, 100, 150], "labelExpr": "datum.value % 100 === 0 ? toString(datum.value) : ''", "grid": true, "gridColor": "#FFFFFF", "gridWidth": {"condition": {"test": "datum.value % 100 === 0", "value": 1}, "value": 0.5}, "domain": false, "tickColor": "#333333", "tickWidth": 0.8, "tickSize": 3, "tickOpacity": {"condition": {"test": "datum.value % 100 === 0", "value": 1}, "value": 0}, "labelColor": "#4D4D4D", "labelFontSize": 9, "labelPadding": 2, "labelOverlap": false, "labelFlush": false, "titleFontSize": 11, "titleFontWeight": "normal", "titleColor": "#000000", "titlePadding": 3}},
                      "color": {"field": "group", "type": "nominal", "scale": {"domain": ["CN", "Hg", "V+Hg", "VA"], "range": ["#F8766D", "#7CAE00", "#00BFC4", "#C77CFF"]},
                        "legend": {"orient": "none", "legendX": 142, "legendY": -31, "direction": "horizontal", "title": null, "labelFontSize": 9, "labelColor": "#000000", "labelOffset": 5, "symbolType": "M-1,-0.07L1,-0.07L1,0.07L-1,0.07Z M-0.35,0A0.35,0.35,0,1,1,0.35,0A0.35,0.35,0,1,1,-0.35,0Z", "symbolSize": 200, "symbolOpacity": 1, "columnPadding": 9}}
                    }
                  },
                  {
                    "data": {"name": "pca2_ell"},
                    "mark": {"type": "line", "interpolate": "cardinal-closed", "strokeWidth": 0.9},
                    "encoding": {
                      "x": {"field": "pc1", "type": "quantitative", "title": "PC1 (44.9% explained var.)"},
                      "y": {"field": "pc2", "type": "quantitative", "title": "PC2 (25.9% explained var.)"},
                      "color": {"field": "group", "type": "nominal"},
                      "order": {"field": "i", "type": "quantitative"}
                    }
                  }
                ]
              }
            ]
          }
        ]
      },
      {
        "resolve": {"scale": {"color": "independent"}, "legend": {"color": "independent"}},
        "spacing": 0,
        "hconcat": [
          {"width": 232, "height": 1, "data": {"values": []}, "mark": "point"},
          {
            "width": 681, "height": 282,
            "title": {"text": "F2 – 28 dias", "offset": 78, "dx": -22},
            "view": {"fill": "#EBEBEB", "stroke": null},
            "layer": [
              {
                "data": {"name": "pca3_pts"},
                "mark": {"type": "circle", "size": 40, "opacity": 1},
                "encoding": {
                  "x": {"field": "pc1", "type": "quantitative", "title": "PC1 (72.7% explained var.)", "scale": {"domain": [-231, 209], "nice": false, "zero": false},
                    "axis": {"values": [-200, -150, -100, -50, 0, 50, 100, 150, 200], "labelExpr": "datum.value % 100 === 0 ? toString(datum.value) : ''", "grid": true, "gridColor": "#FFFFFF", "gridWidth": {"condition": {"test": "datum.value % 100 === 0", "value": 1.4}, "value": 0.7}, "domain": false, "tickColor": "#333333", "tickWidth": 1, "tickSize": 4, "tickOpacity": {"condition": {"test": "datum.value % 100 === 0", "value": 1}, "value": 0}, "labelColor": "#4D4D4D", "labelFontSize": 13, "labelPadding": 3, "labelOverlap": false, "labelFlush": false, "titleFontSize": 16, "titleFontWeight": "normal", "titleColor": "#000000", "titlePadding": 5}},
                  "y": {"field": "pc2", "type": "quantitative", "title": "PC2 (12.4% explained var.)", "scale": {"domain": [-96, 88], "nice": false, "zero": false},
                    "axis": {"values": [-75, -50, -25, 0, 25, 50, 75], "labelExpr": "datum.value % 50 === 0 ? toString(datum.value) : ''", "grid": true, "gridColor": "#FFFFFF", "gridWidth": {"condition": {"test": "datum.value % 50 === 0", "value": 1.4}, "value": 0.7}, "domain": false, "tickColor": "#333333", "tickWidth": 1, "tickSize": 4, "tickOpacity": {"condition": {"test": "datum.value % 50 === 0", "value": 1}, "value": 0}, "labelColor": "#4D4D4D", "labelFontSize": 13, "labelPadding": 4, "labelOverlap": false, "labelFlush": false, "titleFontSize": 16, "titleFontWeight": "normal", "titleColor": "#000000", "titlePadding": 4}},
                  "color": {"field": "group", "type": "nominal", "scale": {"domain": ["CN", "MeHg", "VA", "VAMeHg"], "range": ["#F8766D", "#7CAE00", "#00BFC4", "#C77CFF"]},
                    "legend": {"orient": "none", "legendX": 201, "legendY": -47, "direction": "horizontal", "title": null, "labelFontSize": 13, "labelColor": "#000000", "labelOffset": 6, "symbolType": "M-1,-0.07L1,-0.07L1,0.07L-1,0.07Z M-0.35,0A0.35,0.35,0,1,1,0.35,0A0.35,0.35,0,1,1,-0.35,0Z", "symbolSize": 400, "symbolOpacity": 1, "columnPadding": 14}}
                }
              },
              {
                "data": {"name": "pca3_ell"},
                "mark": {"type": "line", "interpolate": "cardinal-closed", "strokeWidth": 1.3},
                "encoding": {
                  "x": {"field": "pc1", "type": "quantitative", "title": "PC1 (72.7% explained var.)"},
                  "y": {"field": "pc2", "type": "quantitative", "title": "PC2 (12.4% explained var.)"},
                  "color": {"field": "group", "type": "nominal"},
                  "order": {"field": "i", "type": "quantitative"}
                }
              }
            ]
          }
        ]
      }
    ]
  }
]
}
